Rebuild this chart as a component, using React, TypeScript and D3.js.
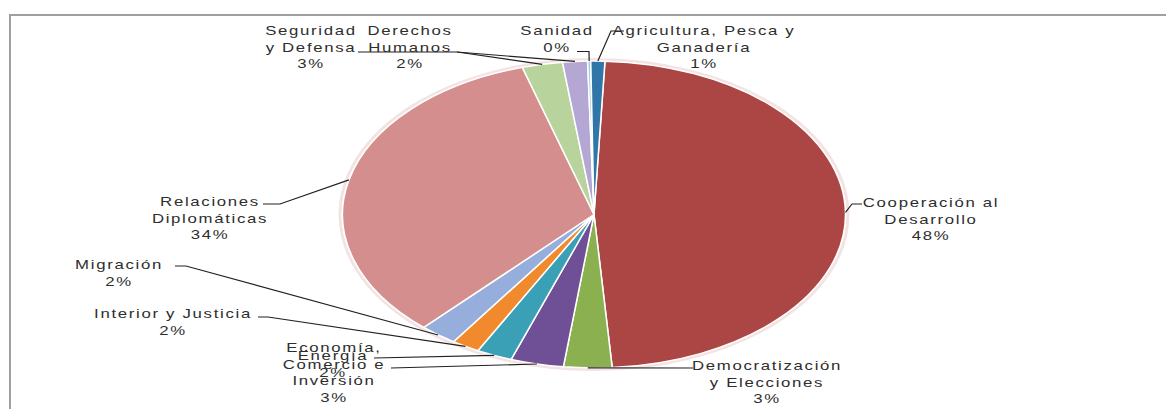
import React from "react";
import * as d3 from "d3";

// ---- data ----
const categories = [
  "Cooperación al Desarrollo",
  "Democratización y Elecciones",
  "Economía, Comercio e Inversión",
  "Energía",
  "Interior y Justicia",
  "Migración",
  "Relaciones Diplomáticas",
  "Seguridad y Defensa",
  "Derechos Humanos",
  "Sanidad",
  "Agricultura, Pesca y Ganadería",
];
const values = [48.2, 3.1, 3.4, 2.3, 1.8, 2.4, 33.6, 2.6, 1.6, 0.2, 0.9];
const labelLines = [
  ["Cooperación al", "Desarrollo"],
  ["Democratización", "y Elecciones"],
  ["Economía,", "Comercio e", "Inversión"],
  ["Energía"],
  ["Interior y Justicia"],
  ["Migración"],
  ["Relaciones", "Diplomáticas"],
  ["Seguridad", "y Defensa"],
  ["Derechos", "Humanos"],
  ["Sanidad"],
  ["Agricultura, Pesca y", "Ganadería"],
];

// ---- styles / layout ----
const colors = [
  "#AB4644", "#8AB050", "#6F4F95", "#3AA0B6", "#F08A2C", "#95AEDC",
  "#D38E8D", "#B8D49C", "#B4A7D4", "#9ED0E0", "#3076A8",
];
const W = 1166, H = 409;
const cx = 594, cy = 214.5, rx = 251.5, ry = 153.5;
const startDeg = 2.5;
const lineH = 16.5;
// label anchor (center x, first baseline y) and leader points from label toward pie
const labelLayout: { x: number; y: number; leader: [number, number][] }[] = [
  { x: 931, y: 207, leader: [[862, 204], [852, 204]] },
  { x: 767, y: 370, leader: [[693, 368]] },
  { x: 334, y: 352, leader: [[391, 368]] },
  { x: 333, y: 360, leader: [[374, 358]] },
  { x: 173, y: 318, leader: [[258, 317], [268, 317]] },
  { x: 119, y: 269, leader: [[175, 266], [186, 266]] },
  { x: 210, y: 206, leader: [[263, 204], [280, 204]] },
  { x: 311, y: 35, leader: [[358, 52], [457, 52]] },
  { x: 410, y: 35, leader: [[457, 52]] },
  { x: 557, y: 35, leader: [[577, 51.5], [589, 51.5]] },
  { x: 704, y: 35, leader: [[624, 31], [611, 31]] },
];

export default function App() {
  const total = d3.sum(values);
  const a0 = (startDeg * Math.PI) / 180;
  const pie = d3
    .pie<number>()
    .sort(null)
    .value((d) => d)
    .startAngle(a0)
    .endAngle(a0 + 2 * Math.PI);
  const arcs = pie(values);
  const arc = d3.arc<d3.PieArcDatum<number>>().innerRadius(0).outerRadius(ry);
  const line = d3.line();

  return (
    <svg
      width={W}
      height={H}
      style={{ position: "absolute", left: 0, top: 0, background: "#fff" }}
      fontFamily="'Liberation Sans', Arial, sans-serif"
    >
      <rect x={0} y={0} width={W} height={H} fill="#fff" />
      <path d={`M10,${H} L10,15 L${W},15`} fill="none" stroke="#a0a0a0" strokeWidth={2} />
      <g transform={`translate(${cx},${cy}) scale(${rx / ry},1)`}>
        <ellipse cx={0} cy={0} rx={ry + 1.5} ry={ry + 1.5} fill="none" stroke="#f3e3e3" strokeWidth={3} vectorEffect="non-scaling-stroke" />
        {arcs.map((a, i) => (
          <path
            key={categories[i]}
            d={arc(a) || ""}
            fill={colors[i]}
            stroke="#fff"
            strokeWidth={1.5}
            vectorEffect="non-scaling-stroke"
          />
        ))}
      </g>
      {arcs.map((a, i) => {
        const m = (a.startAngle + a.endAngle) / 2;
        const ex = cx + rx * Math.sin(m);
        const ey = cy - ry * Math.cos(m);
        const L = labelLayout[i];
        const pts: [number, number][] = [...L.leader, [ex, ey]];
        return (
          <path key={"l" + i} d={line(pts) || ""} fill="none" stroke="#222" strokeWidth={1.2} />
        );
      })}
      {arcs.map((a, i) => {
        const L = labelLayout[i];
        const pct = Math.round((values[i] / total) * 100) + "%";
        const lines = [...labelLines[i], pct];
        return (
          <g key={"t" + i}>
            {lines.map((t, j) => (
              <text
                key={j}
                transform={`translate(${L.x},${L.y + j * lineH}) scale(1.4,1)`}
                textAnchor="middle"
                fontSize={12}
                letterSpacing={1.2}
                fill="#2e2e2e"
              >
                {t}
              </text>
            ))}
          </g>
        );
      })}
    </svg>
  );
}
